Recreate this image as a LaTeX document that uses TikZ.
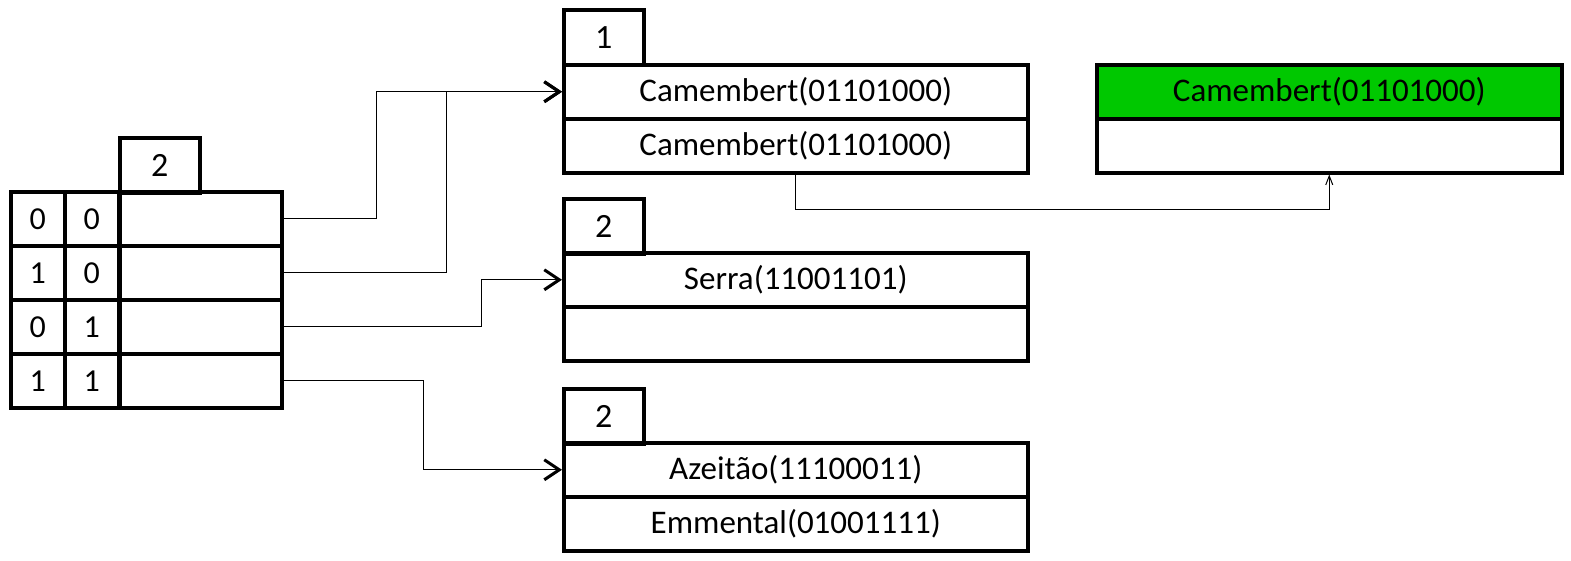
\documentclass[tikz,border=0pt]{standalone}
\usepackage{fontspec}
\setmainfont{Carlito}
\usetikzlibrary{arrows.meta,positioning}
\definecolor{hitgreen}{RGB}{0,200,0}
\tikzset{
  cell/.style={draw, line width=3.5pt, inner sep=0pt, anchor=north west,
    minimum height=54pt, font=\fontsize{32}{35}\selectfont},
  bitcell/.style={cell, minimum width=54pt},
  slotcell/.style={cell, minimum width=162pt},
  tabcell/.style={cell, minimum width=80pt, minimum height=55pt,
    font=\fontsize{34}{37}\selectfont},
  entry/.style={cell, minimum width=464pt, font=\fontsize{33}{36}\selectfont},
  link/.style={line width=1.3pt, -{Straight Barb[length=15pt, width=20pt, line width=3pt]}},
  thinlink/.style={line width=1pt, -{Straight Barb[length=9pt, width=7pt, line width=1pt]}}
}
\begin{document}
\begin{tikzpicture}[x=1pt, y=-1pt]
  \useasboundingbox (0,0) rectangle (1571,560);
  % Directory with global depth
  \node[tabcell] (gd) at (118,136) {2};
  \foreach \i/\a/\b in {0/0/0, 1/1/0, 2/0/1, 3/1/1} {
    \node[bitcell] (a\i) at (9,190+54*\i) {\a};
    \node[bitcell] (b\i) at (63,190+54*\i) {\b};
    \node[slotcell] (s\i) at (118,190+54*\i) {};
  }
  % Bucket with local depth 1
  \node[tabcell] (d1) at (562,8) {1};
  \node[entry] (k1a) at (562,63) {Camembert(01101000)};
  \node[entry] (k1b) at (562,117) {Camembert(01101000)};
  % Bucket with local depth 2
  \node[tabcell] (d2) at (562,197) {2};
  \node[entry] (k2a) at (562,251) {Serra(11001101)};
  \node[entry] (k2b) at (562,305) {};
  % Bucket with local depth 2
  \node[tabcell] (d3) at (562,387) {2};
  \node[entry] (k3a) at (562,441) {Azeitão(11100011)};
  \node[entry] (k3b) at (562,495) {Emmental(01001111)};
  % Overflow page
  \node[entry, fill=hitgreen, minimum width=465pt] (g1) at (1095,63) {Camembert(01101000)};
  \node[entry, minimum width=465pt] (g2) at (1095,117) {};
  % Pointers
  \draw[link] (s0.east) -- ++(93,0) |- (k1a.west);
  \draw[link] (s1.east) -- ++(163,0) |- (k1a.west);
  \draw[link] (s2.east) -- ++(198,0) |- (k2a.west);
  \draw[link] (s3.east) -- ++(140,0) |- (k3a.west);
  \draw[thinlink] (k1b.south) -- ++(0,35) -| (g2.south);
\end{tikzpicture}
\end{document}
